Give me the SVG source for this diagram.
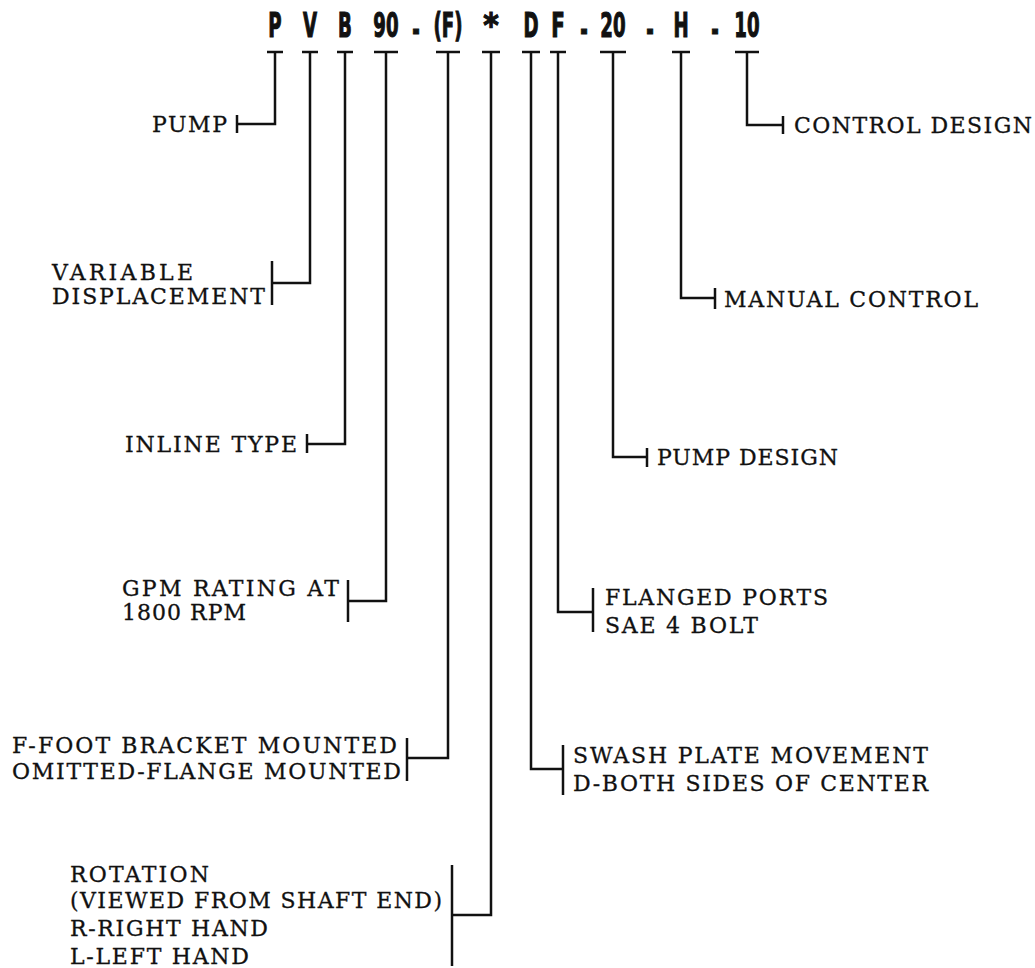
<svg xmlns="http://www.w3.org/2000/svg" width="1035" height="968" viewBox="0 0 1035 968">
<style>
.code{font-family:"DejaVu Sans",sans-serif;font-weight:bold;font-size:33px;fill:#111;stroke:#111;stroke-width:1.2;text-anchor:middle}
.lbl{font-family:"DejaVu Serif","Liberation Serif",serif;font-size:22px;fill:#111;stroke:#111;stroke-width:0.3}
.ln{stroke:#111;stroke-width:2.5;fill:none}
</style>
<rect width="1035" height="968" fill="#fff"/>
<g id="code">
<g id="code-P"><text class="code" transform="translate(275,37) scale(0.55,1)">P</text><path class="ln" d="M267 52H283"/></g>
<g id="code-V"><text class="code" transform="translate(310,37) scale(0.55,1)">V</text><path class="ln" d="M302 52H318"/></g>
<g id="code-B"><text class="code" transform="translate(345,37) scale(0.55,1)">B</text><path class="ln" d="M337 52H353"/></g>
<g id="code-90"><text class="code" transform="translate(386,37) scale(0.55,1)">90</text><path class="ln" d="M374 52H398"/></g>
<g id="code-dash1"><text class="code" transform="translate(416,41) scale(0.55,1)">-</text></g>
<g id="code-F1"><text class="code" transform="translate(448,37) scale(0.55,1)">(F)</text><path class="ln" d="M436 52H460"/></g>
<g id="code-star"><text class="code" transform="translate(491,37) scale(0.9,1)">*</text><path class="ln" d="M482 52H500"/></g>
<g id="code-D"><text class="code" transform="translate(531,37) scale(0.55,1)">D</text><path class="ln" d="M522 52H540"/></g>
<g id="code-F2"><text class="code" transform="translate(558,37) scale(0.6,1)">F</text><path class="ln" d="M550 52H566"/></g>
<g id="code-dash2"><text class="code" transform="translate(584,41) scale(0.55,1)">-</text></g>
<g id="code-20"><text class="code" transform="translate(613,37) scale(0.55,1)">20</text><path class="ln" d="M600 52H626"/></g>
<g id="code-dash3"><text class="code" transform="translate(650,41) scale(0.55,1)">-</text></g>
<g id="code-H"><text class="code" transform="translate(681,37) scale(0.55,1)">H</text><path class="ln" d="M672 52H690"/></g>
<g id="code-dash4"><text class="code" transform="translate(715,41) scale(0.55,1)">-</text></g>
<g id="code-10"><text class="code" transform="translate(747,37) scale(0.55,1)">10</text><path class="ln" d="M735 52H759"/></g>
</g>
<g id="connectors">
<path class="ln" d="M275 52V124H237"/>
<path class="ln" d="M310 52V283H272"/>
<path class="ln" d="M345 52V444H307"/>
<path class="ln" d="M386 52V601H348"/>
<path class="ln" d="M448 52V758H407"/>
<path class="ln" d="M491 52V915H452"/>
<path class="ln" d="M531 52V769H563"/>
<path class="ln" d="M558 52V612H593"/>
<path class="ln" d="M613 52V457H647"/>
<path class="ln" d="M681 52V298H715"/>
<path class="ln" d="M747 52V125H783"/>
</g>
<g id="pump"><path class="ln" d="M237 115V133"/><text class="lbl" x="152" y="132" textLength="75" lengthAdjust="spacing">PUMP</text></g>
<g id="variable"><path class="ln" d="M272 261V305"/><text class="lbl" x="52" y="280" textLength="141" lengthAdjust="spacing">VARIABLE</text><text class="lbl" x="52" y="304" textLength="213" lengthAdjust="spacing">DISPLACEMENT</text></g>
<g id="inline"><path class="ln" d="M307 434V453"/><text class="lbl" x="125" y="452" textLength="172" lengthAdjust="spacing">INLINE TYPE</text></g>
<g id="gpm"><path class="ln" d="M348 580V622"/><text class="lbl" x="122" y="596" textLength="217" lengthAdjust="spacing">GPM RATING AT</text><text class="lbl" x="122" y="620" textLength="124" lengthAdjust="spacing">1800 RPM</text></g>
<g id="mount"><path class="ln" d="M407 738V781"/><text class="lbl" x="12" y="753" textLength="385" lengthAdjust="spacing">F-FOOT BRACKET MOUNTED</text><text class="lbl" x="12" y="779" textLength="389" lengthAdjust="spacing">OMITTED-FLANGE MOUNTED</text></g>
<g id="rotation"><path class="ln" d="M452 865V966"/><text class="lbl" x="70" y="882" textLength="139" lengthAdjust="spacing">ROTATION</text><text class="lbl" x="70" y="908" textLength="372" lengthAdjust="spacing">(VIEWED FROM SHAFT END)</text><text class="lbl" x="70" y="936" textLength="198" lengthAdjust="spacing">R-RIGHT HAND</text><text class="lbl" x="70" y="964" textLength="179" lengthAdjust="spacing">L-LEFT HAND</text></g>
<g id="swash"><path class="ln" d="M563 745V795"/><text class="lbl" x="573" y="763" textLength="355" lengthAdjust="spacing">SWASH PLATE MOVEMENT</text><text class="lbl" x="573" y="791" textLength="355" lengthAdjust="spacing">D-BOTH SIDES OF CENTER</text></g>
<g id="ports"><path class="ln" d="M593 588V632"/><text class="lbl" x="605" y="605" textLength="223" lengthAdjust="spacing">FLANGED PORTS</text><text class="lbl" x="605" y="633" textLength="153" lengthAdjust="spacing">SAE 4 BOLT</text></g>
<g id="pumpdesign"><path class="ln" d="M647 448V467"/><text class="lbl" x="657" y="465" textLength="181" lengthAdjust="spacing">PUMP DESIGN</text></g>
<g id="manual"><path class="ln" d="M715 288V309"/><text class="lbl" x="724" y="307" textLength="254" lengthAdjust="spacing">MANUAL CONTROL</text></g>
<g id="control"><path class="ln" d="M783 116V134"/><text class="lbl" x="794" y="133" textLength="238" lengthAdjust="spacing">CONTROL DESIGN</text></g>
</svg>
